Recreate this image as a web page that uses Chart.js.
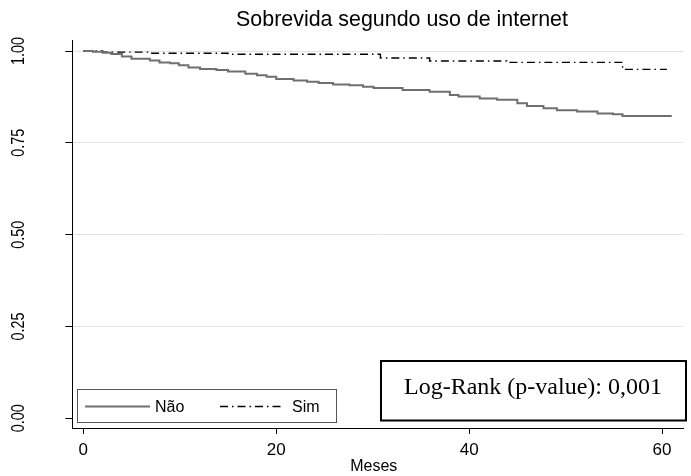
<!DOCTYPE html>
<html>
<head>
<meta charset="utf-8">
<script src="https://cdn.jsdelivr.net/npm/chart.js@4/dist/chart.umd.min.js"></script>
<style>
  html, body { margin: 0; padding: 0; background: #fff; }
  #wrap { width: 691px; height: 476px; position: relative; }
</style>
</head>
<body>
<div id="wrap"><canvas id="km"></canvas></div>
<script>
// Kaplan-Meier survival estimates by internet use (time in months)
const titleText = 'Sobrevida segundo uso de internet';
const xAxisTitle = 'Meses';
const seriesNames = ['Não', 'Sim'];

const monthsNao = [0, 1.0, 2.0, 2.9, 4.0, 5.0, 6.9, 7.9, 9.0, 9.9, 10.9, 12.1, 13.8, 15.0, 16.8, 18.0,
  19.0, 20.0, 21.8, 23.2, 24.4, 25.9, 27.6, 29.0, 30.1, 33.1, 35.9, 38.0, 38.9, 41.1, 42.9,
  45.0, 46.0, 47.7, 49.1, 51.2, 53.3, 54.9, 55.9, 61.0];
const survNao = [1.000, 0.998, 0.995, 0.992, 0.985, 0.979, 0.974, 0.969, 0.967, 0.961, 0.955, 0.951,
  0.948, 0.944, 0.938, 0.934, 0.930, 0.924, 0.920, 0.916, 0.913, 0.909, 0.907, 0.903, 0.899,
  0.894, 0.889, 0.880, 0.876, 0.871, 0.867, 0.858, 0.850, 0.844, 0.839, 0.835, 0.830, 0.828,
  0.823, 0.823];

const monthsSim = [0, 2.0, 7.0, 15.0, 30.8, 35.9, 43.9, 55.9, 60.5];
const survSim = [1.000, 0.997, 0.994, 0.991, 0.981, 0.973, 0.969, 0.950, 0.950];

const xTicks = [0, 20, 40, 60];
const yTicks = [0, 0.25, 0.5, 0.75, 1];
const yTickLabels = ['0.00', '0.25', '0.50', '0.75', '1.00'];
const testLabel = 'Log-Rank (p-value): 0,001';

const toPoints = (xs, ys) => xs.map((x, i) => ({ x: x, y: ys[i] }));

const SANS = '"Liberation Sans", Arial, sans-serif';
const SERIF = '"Liberation Serif", "Times New Roman", serif';

// Draws the title, axis labels, legend and the log-rank annotation
const decorations = {
  id: 'decorations',
  afterDraw(chart) {
    const ctx = chart.ctx;
    const xs = chart.scales.x, ys = chart.scales.y;
    ctx.save();
    ctx.fillStyle = '#000';

    // title
    ctx.font = '21.4px ' + SANS;
    ctx.textAlign = 'center';
    ctx.textBaseline = 'middle';
    ctx.fillText(titleText, 402, 20);

    // y tick labels, rotated and slightly condensed
    ctx.font = '18px ' + SANS;
    yTicks.forEach((v, i) => {
      const py = ys.getPixelForValue(v);
      ctx.save();
      ctx.translate(19, py);
      ctx.rotate(-Math.PI / 2);
      ctx.scale(0.8, 1);
      ctx.textAlign = 'center';
      ctx.textBaseline = 'middle';
      ctx.fillText(yTickLabels[i], 0, 0);
      ctx.restore();
    });

    // x tick labels and axis title
    ctx.font = '17px ' + SANS;
    ctx.textAlign = 'center';
    ctx.textBaseline = 'middle';
    xTicks.forEach(v => {
      ctx.fillText(String(v), xs.getPixelForValue(v), 450);
    });
    ctx.font = '16px ' + SANS;
    ctx.fillText(xAxisTitle, (xs.left + xs.right) / 2 - 4, 467);

    // legend
    const ds = chart.data.datasets;
    ctx.fillStyle = '#fff';
    ctx.fillRect(77.5, 389.5, 259, 33);
    ctx.strokeStyle = '#555';
    ctx.lineWidth = 1;
    ctx.strokeRect(77.5, 389.5, 259, 33);
    const ly = 406.5;
    const entries = [{ x0: 85, x1: 150, tx: 155 }, { x0: 220, x1: 284, tx: 292 }];
    entries.forEach((e, i) => {
      ctx.save();
      ctx.strokeStyle = ds[i].borderColor;
      ctx.lineWidth = ds[i].borderWidth;
      ctx.setLineDash(ds[i].borderDash || []);
      ctx.beginPath();
      ctx.moveTo(e.x0, ly);
      ctx.lineTo(e.x1, ly);
      ctx.stroke();
      ctx.restore();
      ctx.fillStyle = '#000';
      ctx.font = '16px ' + SANS;
      ctx.textAlign = 'left';
      ctx.textBaseline = 'middle';
      ctx.fillText(ds[i].label, e.tx, ly + 1);
    });

    // log-rank test box
    ctx.fillStyle = '#fff';
    ctx.fillRect(380, 360, 306, 60.5);
    ctx.strokeStyle = '#000';
    ctx.lineWidth = 2;
    ctx.strokeRect(381, 361, 305, 59.5);
    ctx.fillStyle = '#000';
    ctx.font = '24px ' + SERIF;
    ctx.textAlign = 'center';
    ctx.textBaseline = 'middle';
    ctx.fillText(testLabel, 533, 388);

    ctx.restore();
  }
};

new Chart(document.getElementById('km'), {
  type: 'line',
  data: {
    datasets: [
      {
        label: seriesNames[0],
        data: toPoints(monthsNao, survNao),
        stepped: 'before',
        borderColor: '#6f6f6f',
        borderWidth: 2,
        pointRadius: 0,
        fill: false
      },
      {
        label: seriesNames[1],
        data: toPoints(monthsSim, survSim),
        stepped: 'before',
        borderColor: '#000000',
        borderWidth: 1.4,
        borderDash: [8, 4, 1.5, 4],
        pointRadius: 0,
        fill: false
      }
    ]
  },
  options: {
    responsive: true,
    maintainAspectRatio: false,
    animation: false,
    devicePixelRatio: 1,
    layout: { padding: { left: 65.3, right: 7.7, top: 40, bottom: 42 } },
    plugins: {
      legend: { display: false },
      title: { display: false },
      tooltip: { enabled: false }
    },
    scales: {
      x: {
        type: 'linear',
        min: -1.14,
        max: 62.2,
        afterBuildTicks: s => { s.ticks = xTicks.map(v => ({ value: v })); },
        afterFit: s => { s.height = 6; },
        ticks: { display: false },
        grid: { drawOnChartArea: false, drawTicks: true, tickLength: 6, tickColor: '#000', lineWidth: 1 },
        border: { display: true, color: '#000', width: 1 }
      },
      y: {
        type: 'linear',
        min: -0.0264,
        max: 1.030,
        afterBuildTicks: s => { s.ticks = yTicks.map(v => ({ value: v })); },
        afterFit: s => { s.width = 7; },
        ticks: { display: false },
        grid: {
          drawOnChartArea: true,
          drawTicks: true,
          tickLength: 7,
          tickColor: '#000',
          color: c => (c.tick && c.tick.value === 0 ? 'rgba(0,0,0,0)' : '#e3e3e3'),
          lineWidth: 1
        },
        border: { display: true, color: '#000', width: 1 }
      }
    }
  },
  plugins: [decorations]
});
</script>
</body>
</html>
